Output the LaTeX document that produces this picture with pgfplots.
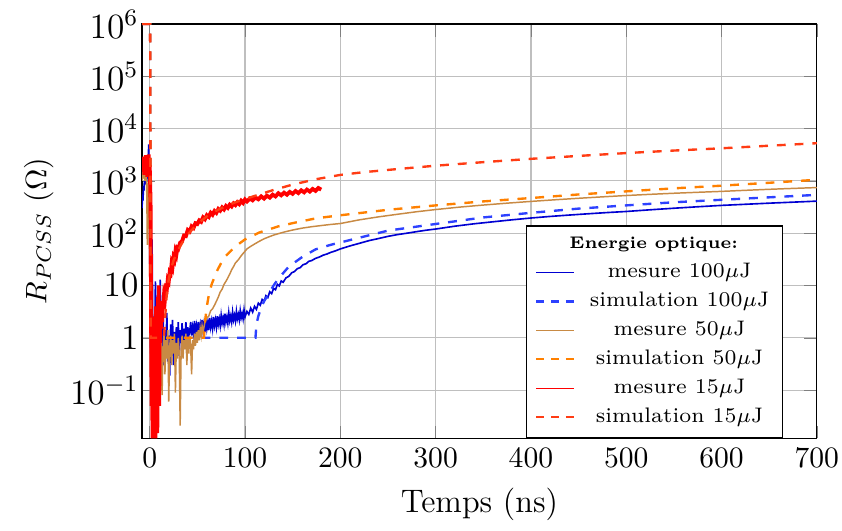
\documentclass[border=0pt]{standalone}
\usepackage{pgfplots}
\pgfplotsset{compat=1.18}
\definecolor{mesA}{RGB}{0,0,210}
\definecolor{simA}{RGB}{45,65,255}
\definecolor{mesB}{RGB}{200,138,68}
\definecolor{simB}{RGB}{255,128,0}
\definecolor{mesC}{RGB}{255,0,0}
\definecolor{simC}{RGB}{255,60,20}
\pgfplotsset{
  solidleg/.style={legend image code/.code={\draw[solid, draw=#1, line width=0.4pt] (0cm,0cm) -- (0.45cm,0cm);}},
  dashleg/.style={legend image code/.code={\draw[draw=#1, line width=0.8pt, dash pattern=on 2.6pt off 2.4pt] (0cm,0cm) -- (0.45cm,0cm);}},
  mesplot/.style={solid, color=#1, draw=#1, solidleg=#1},
  simplot/.style={color=#1, draw=#1, line width=0.8pt, dash pattern=on 3pt off 3pt, dashleg=#1},
}
\begin{document}
\begin{tikzpicture}
\begin{axis}[
  scale only axis, width=228pt, height=140pt,
  ymode=log, xmin=-8, xmax=700, ymin=0.012, ymax=1e6,
  xtick={0,100,...,700},
  ytick={0.1,1,10,100,1000,10000,100000,1000000},
  yticklabels={$10^{-1}$,$1$,$10$,$10^2$,$10^3$,$10^4$,$10^5$,$10^6$},
  yminorticks=false,
  grid=major,
  y tick label style={font=\large, inner xsep=2pt, xshift=1pt},
  x tick label style={font=\normalsize, inner xsep=1pt},
  xlabel={Temps (ns)},
  ylabel={$R_{PCSS}$ ($\Omega$)},
  xlabel style={font=\fontsize{11}{13}\selectfont},
  ylabel style={font=\normalsize, yshift=0pt},
  legend cell align=center,
  legend style={at={(0.95,0)}, anchor=south east,
    font=\fontsize{7.1}{8.5}\selectfont,
    draw=black, fill=white, row sep=0pt,
    nodes={inner xsep=1.5pt, inner ysep=1.7pt},
    /tikz/every odd column/.append style={column sep=-3.5pt}},
]
\addlegendimage{legend image code/.code={}}
\addlegendentry[xshift=-8.7pt]{\fontsize{5.7}{7}\selectfont\textbf{Energie optique:}}

% mesure 100 uJ
\addplot[mesplot=mesA, line width=0.55pt] table {
-8 300
-7.5 550
-7 420
-6.5 800
-6 650
-5.5 1000
-5 850
-4.5 1150
-4 900
-3.5 1300
-3 1000
-2.5 1500
-2 1200
-1.5 2600
-1 5000
-0.5 1200
0 60
0.5 3
1 0.5
1.5 1.2
2 20
2.5 76
3 6
3.5 0.4
4 2.5
5 0.25
6 12
7 1.5
8 0.4
9 4
10 0.5
11 13
12 1.2
13 0.6
14 5
15 0.3
16 1.4
17 0.5
18 3
19 0.35
20 1.1
21 0.19
22 1.8
23 0.6
24 2.2
25 0.3
26 1.3
27 0.5
28 1.6
29 0.7
30 2
31 0.45
32 1.4
33 0.8
34 1.9
35 0.6
36 1.5
37 0.9
38 2
39 0.7
40 1.6
41 1.1
42 1.3
43 2
44 1.1
45 1.6
46 1.2
47 2.1
48 1.3
49 1.7
50 1.1
51 2
52 1.4
53 1.8
54 1.2
55 2.2
56 1.4
57 1.9
58 1.3
59 2.3
60 1.5
61 2
62 1.4
63 2.4
64 1.6
65 2.1
66 1.5
67 2.5
68 1.7
69 2.2
70 1.6
71 2.6
72 1.8
73 2.3
74 1.7
75 2.7
76 1.9
77 2.4
78 1.8
79 2.9
80 2
81 2.5
82 1.9
83 3
84 2.1
85 2.6
86 2
87 3.1
88 2.2
89 2.7
90 2.1
91 3.2
92 2.3
93 2.8
94 2.2
95 3.3
96 2.4
97 2.9
98 2.3
99 3.4
100 2.5
102 3.2
104 2.8
106 3.7
108 3.1
110 4
112 3.5
114 4.6
116 4.2
118 5.4
120 5
122 6.4
124 5.9
126 7.6
128 7
130 8.8
132 8.3
134 10.5
136 9.8
138 12.2
140 11.5
143 14
146 15
149 17.5
152 18.5
155 21
158 22
161 25
164 26
167 29
170 30
174 33
178 35
182 38
186 40
190 43
195 46
200 50
210 57
220 64
230 72
240 79
250 87
260 94
270 100
280 107
290 114
300 120
320 136
340 151
360 165
380 180
400 195
420 209
440 222
460 235
480 248
500 260
525 280
550 300
575 320
600 340
625 357
650 375
675 392
700 410
};
\addlegendentry{mesure 100$\mu$J}

% simulation 100 uJ
\addplot[simplot=simA] table {
-8 1000000
0.5 1000000
1 1
111 1
112 1.8
114 2.6
117 3.8
120 5
125 7
130 10
135 13.5
146 23
160 35
174 49
190 60
209 73
250 112
300 150
350 200
400 245
450 295
500 340
550 390
600 435
650 485
700 540
};
\addlegendentry{simulation 100$\mu$J}

% mesure 50 uJ
\addplot[mesplot=mesB, line width=0.5pt] table {
-8 1000
-7.5 1500
-7 1100
-6.5 1900
-6 1300
-5.5 1700
-5 1000
-4.5 1400
-4 1200
-3.5 1600
-3 500
-2.5 60
-2 300
-1.5 800
-1 1000
-0.5 200
0 20
0.5 2
1 0.5
1.5 3
2 0.3
3 1.5
4 0.2
5 2
6 0.5
7 1.3
8 0.15
9 0.8
10 1.5
11 0.3
12 1
13 0.08
14 0.6
15 1.2
16 0.2
17 0.9
18 0.4
19 1.4
20 0.06
21 0.7
22 1.1
23 0.3
24 0.9
25 0.5
26 1.2
27 0.09
28 0.8
29 0.4
30 1
31 0.5
32 0.021
33 0.6
34 1.1
35 0.4
36 0.9
37 0.6
38 1.2
39 0.3
40 1
41 0.5
42 1.1
43 0.7
44 0.2
45 0.9
46 0.6
47 1.2
48 0.7
49 1.3
50 0.8
51 1.4
52 0.9
53 1.5
54 1.1
55 1.7
56 1.3
58 2
60 2.4
62 2.6
64 3.3
66 3.6
68 4.2
70 5
72 6
74 7.5
76 8.5
78 10.5
80 12
82 14
84 16.5
86 20
88 23
90 27
93 31
96 37
99 43
102 50
106 56
110 62
115 70
120 78
125 85
130 92
140 104
150 115
160 125
170 133
180 140
190 147
200 153
220 180
240 205
260 230
280 257
300 283
325 315
350 345
375 375
400 405
425 435
450 465
475 495
500 525
525 553
550 580
575 605
600 630
625 660
650 690
675 718
700 745
};
\addlegendentry{mesure 50$\mu$J}

% simulation 50 uJ
\addplot[simplot=simB] table {
-8 1000000
0.5 1000000
1 1
57 1
58 2
60 4
62 6.5
65 10.5
70 18
75 27
80 37
90 56
100 76
115 103
135 135
155 163
175 193
200 220
250 280
300 340
350 405
400 470
450 550
500 630
550 720
600 810
650 920
700 1050
};
\addlegendentry{simulation 50$\mu$J}

% mesure 15 uJ
\addplot[mesplot=mesC, line width=1.3pt] table {
-8 2600
-7.5 1500
-7 2900
-6.5 1800
-6 2400
-5.5 1300
-5 2700
-4.5 1900
-4 3100
-3.5 1600
-3 2200
-2.5 1200
-2 2500
-1.5 1700
-1 3200
-0.5 1400
0 2000
0.5 900
1 300
1.5 2
2 0.05
2.5 0.3
3 0.012
3.5 0.8
4 0.1
4.5 2.5
5 0.02
5.5 0.5
6 0.012
6.5 4
7 0.2
7.5 1.5
8 0.015
8.5 6
9 0.4
9.5 10
10 0.05
10.5 2
11 0.8
11.5 5
12 1.5
12.5 3.5
13 2
13.5 5
14 3.5
15 6.5
16 5.5
17 9
18 8.5
19 13
20 12
21 18
22 17
23 26
24 23
25 34
26 31
27 44
28 39
29 52
30 50
32 66
34 70
36 90
38 88
40 115
42 108
44 135
46 126
48 155
50 150
52 175
54 165
56 200
58 185
60 220
62 205
64 245
66 225
68 265
70 245
72 290
74 270
76 310
78 285
80 330
82 305
84 350
86 325
88 370
90 345
92 390
94 360
96 415
98 380
100 440
102 405
105 460
108 425
111 480
114 445
117 505
120 460
123 520
126 480
129 545
132 505
135 580
138 530
141 595
144 545
147 615
150 565
153 640
156 585
159 660
162 605
165 680
168 625
171 700
174 645
177 730
180 680
};
\addlegendentry{mesure 15$\mu$J}

% simulation 15 uJ
\addplot[simplot=simC] table {
-8 1000000
0.5 1000000
1 1
15 1
16 2
17 4
18 7
20 13
22 20
25 30
30 48
35 70
40 95
50 150
60 210
70 270
80 330
90 390
100 450
115 550
130 670
150 850
175 1080
200 1300
225 1470
250 1620
275 1780
300 1950
350 2280
400 2640
450 3000
500 3400
550 3800
600 4200
650 4700
700 5250
};
\addlegendentry{simulation 15$\mu$J}
\end{axis}
\path (current axis.south west) ++(-48pt,0pt);
\path (current axis.south east) ++(8pt,0pt);
\end{tikzpicture}
\end{document}
